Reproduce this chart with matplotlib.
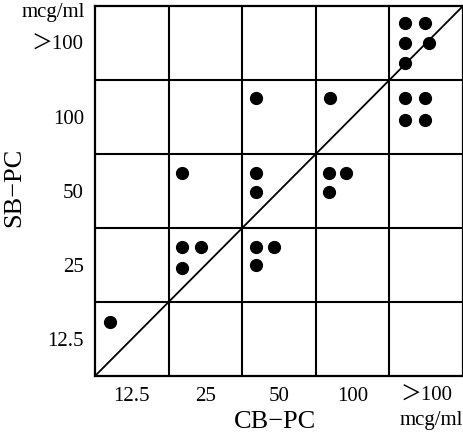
import matplotlib
matplotlib.use("Agg")
import matplotlib.pyplot as plt

plt.rcParams['font.family'] = ['Liberation Serif', 'Noto Sans CJK JP', 'DejaVu Sans']

categories = ["12.5", "25", "50", "100", "＞100"]

# dot positions in category units (cell index + offset within cell)
dots_x = [0.20,
          1.18, 1.44, 1.18,
          1.18,
          2.19, 2.43, 2.19,
          2.19, 2.19,
          2.19,
          3.18, 3.41, 3.18,
          3.19,
          4.21, 4.48, 4.21, 4.48,
          4.21, 4.48, 4.21, 4.54, 4.21]
dots_y = [0.73,
          1.74, 1.74, 1.46,
          2.74,
          1.74, 1.74, 1.50,
          2.74, 2.49,
          3.76,
          2.74, 2.74, 2.49,
          3.76,
          3.76, 3.76, 3.46, 3.46,
          4.77, 4.77, 4.50, 4.50, 4.23]

fig = plt.figure(figsize=(4.64, 4.38), dpi=100)
ax = fig.add_axes([95/464, 1 - 376/438, 368/464, 370/438])
n = len(categories)
ax.set_xlim(0, n)
ax.set_ylim(0, n)
for i in range(1, n):
    ax.axvline(i, color='black', lw=1.5)
    ax.axhline(i, color='black', lw=1.5)
for s in ax.spines.values():
    s.set_linewidth(1.6)
ax.plot([0, n], [0, n], color='black', lw=1.3)
ax.plot(dots_x, dots_y, 'o', color='black', markersize=8.5, linestyle='none')

centers = [i + 0.5 for i in range(n)]
ax.set_xticks(centers)
ax.set_xticklabels(categories, fontsize=15)
ax.set_yticks(centers)
ax.set_yticklabels(categories, fontsize=15)
ax.tick_params(length=0, pad=8)

ax.set_xlabel("CB−PC", fontsize=19, labelpad=0)
ax.xaxis.set_label_coords(0.49, -0.095)
ax.set_ylabel("SB−PC", fontsize=19)
ax.yaxis.set_label_coords(-0.19, 0.51)

fig.text(463/464, 1 - 421/438, "mcg/ml", ha='right', va='center', fontsize=15)
fig.text(85/464, 1 - 13/438, "mcg/ml", ha='right', va='center', fontsize=15)

fig.savefig("out.png", dpi=100)
